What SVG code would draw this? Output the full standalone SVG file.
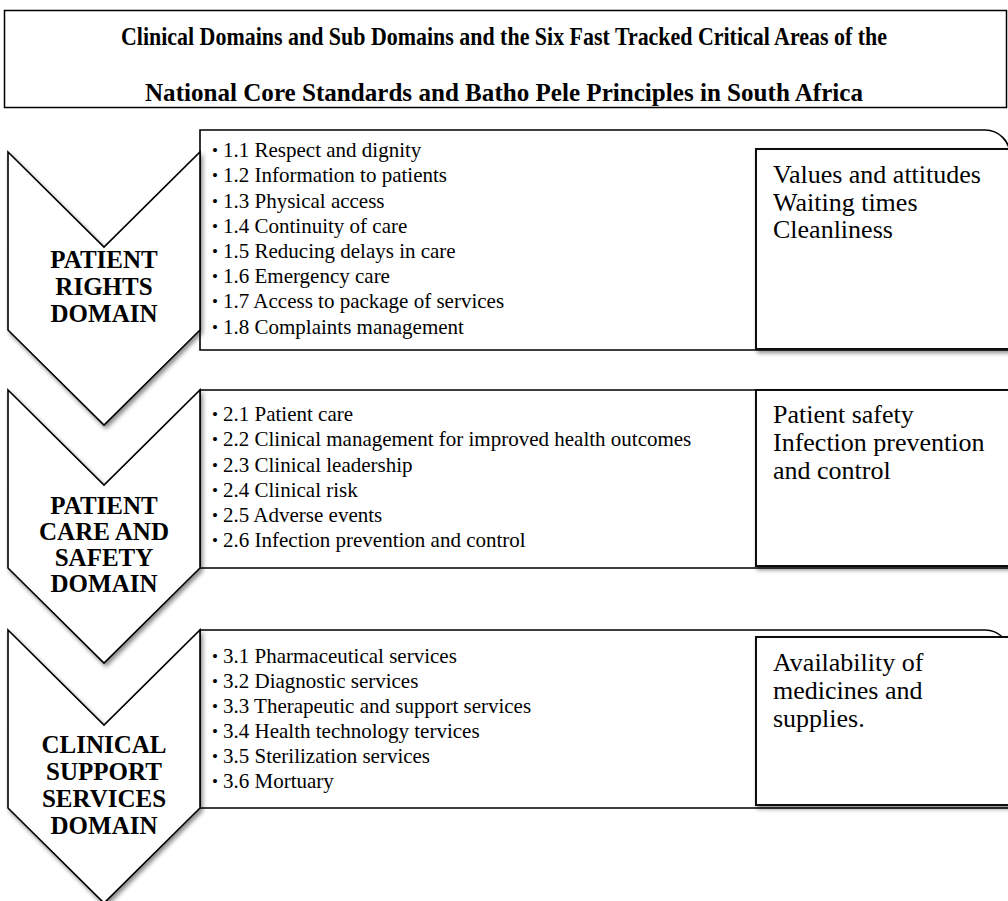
<svg xmlns="http://www.w3.org/2000/svg" width="1008" height="901" viewBox="0 0 1008 901">
<defs>
<filter id="sh" x="-10%" y="-10%" width="130%" height="130%">
<feDropShadow dx="2" dy="3" stdDeviation="2" flood-color="#000" flood-opacity="0.45"/>
</filter>
<style>
.title{font-family:"Liberation Serif",serif;font-weight:bold;font-size:25px;fill:#000}
.chev{fill:#fff;stroke:#000;stroke-width:1.6;filter:url(#sh)}
.outer{fill:#fff;stroke:#000;stroke-width:1.6}
.inner{fill:#fff;stroke:#111;stroke-width:2;filter:url(#sh)}
.dom{font-family:"Liberation Serif",serif;font-weight:bold;font-size:25px;fill:#000;text-anchor:middle}
.li{font-family:"Liberation Serif",serif;font-size:21px;fill:#000}
.bul{font-family:"Liberation Serif",serif;font-size:17px;fill:#000}
.cr{font-family:"Liberation Serif",serif;font-size:26px;fill:#000}
</style>
</defs>
<rect width="1008" height="901" fill="#fff"/>
<g id="title">
<rect x="4.5" y="10.5" width="1002" height="97" fill="#fff" stroke="#000" stroke-width="1.5"/>
<text class="title" x="504" y="45" text-anchor="middle" textLength="766" lengthAdjust="spacingAndGlyphs">Clinical Domains and Sub Domains and the Six Fast Tracked Critical Areas of the</text>
<text class="title" x="504" y="101" text-anchor="middle" textLength="718" lengthAdjust="spacingAndGlyphs">National Core Standards and Batho Pele Principles in South Africa</text>
</g>
<g id="connectors"></g>
<g id="domain1">
<path class="outer" d="M200,130 H985 A25,25 0 0 1 1010,155 V350 H200 Z"/>
<path class="chev" d="M8,152 L104,247 L200,152 L200,330 L104,425 L8,330 Z"/>
<text class="dom" x="104" y="268">PATIENT</text>
<text class="dom" x="104" y="295">RIGHTS</text>
<text class="dom" x="104" y="322">DOMAIN</text>
<g class="li">
<text x="223" y="157">1.1 Respect and dignity</text>
<text x="223" y="182">1.2 Information to patients</text>
<text x="223" y="207.5">1.3 Physical access</text>
<text x="223" y="232.5">1.4 Continuity of care</text>
<text x="223" y="258">1.5 Reducing delays in care</text>
<text x="223" y="283">1.6 Emergency care</text>
<text x="223" y="308">1.7 Access to package of services</text>
<text x="223" y="333.5">1.8 Complaints management</text>
</g>
<g class="bul">
<text x="212" y="156">•</text><text x="212" y="181">•</text><text x="212" y="206.5">•</text><text x="212" y="231.5">•</text><text x="212" y="257">•</text><text x="212" y="282">•</text><text x="212" y="307">•</text><text x="212" y="332.5">•</text>
</g>
<rect class="inner" x="756" y="149" width="260" height="200"/>
<text class="cr" x="773" y="183">Values and attitudes</text>
<text class="cr" x="773" y="211">Waiting times</text>
<text class="cr" x="773" y="238">Cleanliness</text>
</g>
<g id="domain2">
<path class="outer" d="M200,390 H985 A25,25 0 0 1 1010,415 V568 H200 Z"/>
<path class="chev" d="M8,390 L104,485 L200,390 L200,568 L104,663 L8,568 Z"/>
<text class="dom" x="104" y="514">PATIENT</text>
<text class="dom" x="104" y="540">CARE AND</text>
<text class="dom" x="104" y="566">SAFETY</text>
<text class="dom" x="104" y="592">DOMAIN</text>
<g class="li">
<text x="223" y="421">2.1 Patient care</text>
<text x="223" y="446">2.2 Clinical management for improved health outcomes</text>
<text x="223" y="471.5">2.3 Clinical leadership</text>
<text x="223" y="497">2.4 Clinical risk</text>
<text x="223" y="522">2.5 Adverse events</text>
<text x="223" y="547">2.6 Infection prevention and control</text>
</g>
<g class="bul">
<text x="212" y="420">•</text><text x="212" y="445">•</text><text x="212" y="470.5">•</text><text x="212" y="496">•</text><text x="212" y="521">•</text><text x="212" y="546">•</text>
</g>
<rect class="inner" x="756" y="390" width="260" height="176"/>
<text class="cr" x="773" y="423">Patient safety</text>
<text class="cr" x="773" y="451">Infection prevention</text>
<text class="cr" x="773" y="479">and control</text>
</g>
<g id="domain3">
<path class="outer" d="M200,630 H985 A25,25 0 0 1 1010,655 V808 H200 Z"/>
<path class="chev" d="M8,630 L104,725 L200,630 L200,808 L104,903 L8,808 Z"/>
<text class="dom" x="104" y="753">CLINICAL</text>
<text class="dom" x="104" y="780">SUPPORT</text>
<text class="dom" x="104" y="807">SERVICES</text>
<text class="dom" x="104" y="834">DOMAIN</text>
<g class="li">
<text x="223" y="663">3.1 Pharmaceutical services</text>
<text x="223" y="688">3.2 Diagnostic services</text>
<text x="223" y="713">3.3 Therapeutic and support services</text>
<text x="223" y="738">3.4 Health technology tervices</text>
<text x="223" y="763">3.5 Sterilization services</text>
<text x="223" y="788">3.6 Mortuary</text>
</g>
<g class="bul">
<text x="212" y="662">•</text><text x="212" y="687">•</text><text x="212" y="712">•</text><text x="212" y="737">•</text><text x="212" y="762">•</text><text x="212" y="787">•</text>
</g>
<rect class="inner" x="756" y="637" width="260" height="168"/>
<text class="cr" x="773" y="671">Availability of</text>
<text class="cr" x="773" y="699">medicines and</text>
<text class="cr" x="773" y="727">supplies.</text>
</g>
</svg>
